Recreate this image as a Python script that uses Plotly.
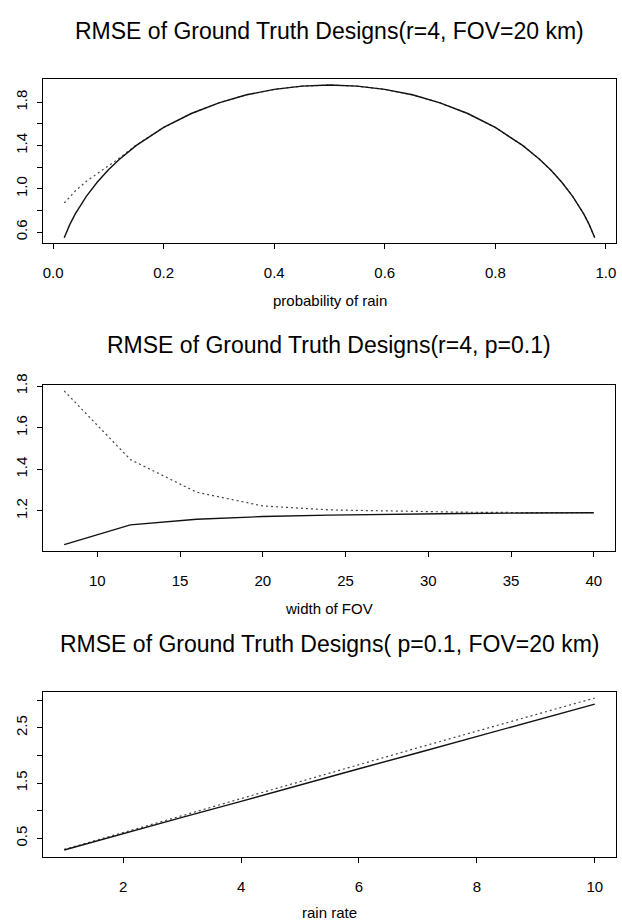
import plotly.graph_objects as go

W, H = 622, 920

# ---------------- data ----------------
# Panel 1: RMSE vs probability of rain (r=4, FOV=20 km)
p_rain = [0.02, 0.03, 0.04, 0.06, 0.08, 0.10, 0.12, 0.15, 0.20, 0.25, 0.30, 0.35,
          0.40, 0.45, 0.50, 0.55, 0.60, 0.65, 0.70, 0.75, 0.80, 0.85, 0.88, 0.90,
          0.92, 0.94, 0.96, 0.97, 0.98]
rmse_p_solid = [0.549, 0.669, 0.768, 0.931, 1.063, 1.176, 1.274, 1.400, 1.568, 1.697,
                1.796, 1.870, 1.920, 1.950, 1.960, 1.950, 1.920, 1.870, 1.796, 1.697,
                1.568, 1.400, 1.274, 1.176, 1.063, 0.931, 0.768, 0.669, 0.549]
rmse_p_dot = [0.870, 0.925, 0.980, 1.070, 1.140, 1.210, 1.285, 1.405, 1.568, 1.697,
              1.796, 1.870, 1.920, 1.950, 1.960, 1.950, 1.920, 1.870, 1.796, 1.697,
              1.568, 1.400, 1.274, 1.176, 1.063, 0.931, 0.768, 0.669, 0.549]

# Panel 2: RMSE vs width of FOV (r=4, p=0.1)
fov = [8, 12, 16, 20, 24, 28, 32, 36, 40]
rmse_f_solid = [1.038, 1.133, 1.160, 1.173, 1.180, 1.185, 1.188, 1.190, 1.191]
rmse_f_dot = [1.777, 1.447, 1.290, 1.224, 1.205, 1.198, 1.194, 1.192, 1.192]

# Panel 3: RMSE vs rain rate (p=0.1, FOV=20 km)
rain_rate = [1, 2, 3, 4, 5, 6, 7, 8, 9, 10]
rmse_r_solid = [0.29, 0.59, 0.88, 1.17, 1.47, 1.76, 2.05, 2.34, 2.64, 2.93]
rmse_r_dot = [0.30, 0.60, 0.91, 1.22, 1.53, 1.83, 2.14, 2.44, 2.74, 3.04]

titles = ["RMSE of Ground Truth Designs(r=4, FOV=20 km)",
          "RMSE of Ground Truth Designs(r=4, p=0.1)",
          "RMSE of Ground Truth Designs( p=0.1, FOV=20 km)"]
xlabels = ["probability of rain", "width of FOV", "rain rate"]

x_ticks = [[0.0, 0.2, 0.4, 0.6, 0.8, 1.0], [10, 15, 20, 25, 30, 35, 40], [2, 4, 6, 8, 10]]
x_ticktext = [["0.0", "0.2", "0.4", "0.6", "0.8", "1.0"],
              ["10", "15", "20", "25", "30", "35", "40"],
              ["2", "4", "6", "8", "10"]]
y_ticks = [[0.6, 0.8, 1.0, 1.2, 1.4, 1.6, 1.8], [1.2, 1.4, 1.6, 1.8],
           [0.5, 1.0, 1.5, 2.0, 2.5, 3.0]]
y_ticktext = [["0.6", "", "1.0", "", "1.4", "", "1.8"], ["1.2", "1.4", "1.6", "1.8"],
              ["0.5", "", "1.5", "", "2.5", ""]]

x_ranges = [[-0.0184, 1.0184], [6.72, 41.28], [0.64, 10.36]]
y_ranges = [[0.50, 2.015], [1.008, 1.805], [0.166, 3.148]]

# ---------------- layout (pixel boxes) ----------------
boxes = [(43, 616, 68, 234), (43, 615, 378, 546), (43, 616, 689, 856)]
title_y = [19, 337, 640]
label_y = [292, 604, 912]

FONT = "Liberation Sans, Arial, Helvetica, sans-serif"

fig = go.Figure()
series = [(p_rain, rmse_p_solid, rmse_p_dot), (fov, rmse_f_solid, rmse_f_dot),
          (rain_rate, rmse_r_solid, rmse_r_dot)]

annotations = []
for i, (xs, ys_s, ys_d) in enumerate(series):
    sfx = "" if i == 0 else str(i + 1)
    fig.add_trace(go.Scatter(x=xs, y=ys_d, mode="lines", xaxis="x" + sfx, yaxis="y" + sfx,
                             line=dict(color="#444444", width=1.2, dash="2px,3px"),
                             showlegend=False, hoverinfo="skip"))
    fig.add_trace(go.Scatter(x=xs, y=ys_s, mode="lines", xaxis="x" + sfx, yaxis="y" + sfx,
                             line=dict(color="#111111", width=1.4),
                             showlegend=False, hoverinfo="skip"))
    x0, x1, y0, y1 = boxes[i]
    common = dict(showline=True, linecolor="black", linewidth=1.2, mirror=True,
                  ticks="outside", ticklen=5, tickwidth=1, tickcolor="black",
                  showgrid=False, zeroline=False,
                  tickfont=dict(family=FONT, size=15, color="black"))
    fig.layout["xaxis" + sfx] = dict(
        domain=[x0 / W, x1 / W], anchor="y" + sfx, range=x_ranges[i],
        tickmode="array", tickvals=x_ticks[i], ticktext=x_ticktext[i],
        ticklabelstandoff=11, **common)
    fig.layout["yaxis" + sfx] = dict(
        domain=[1 - y1 / H, 1 - y0 / H], anchor="x" + sfx, range=y_ranges[i],
        tickangle=-90, tickmode="array", tickvals=y_ticks[i], ticktext=y_ticktext[i],
        ticklabelstandoff=4, **common)
    cx = (x0 + x1) / 2 / W
    annotations.append(dict(text=titles[i], x=cx, y=1 - title_y[i] / H, xref="paper",
                            yref="paper", xanchor="center", yanchor="middle",
                            showarrow=False,
                            font=dict(family=FONT, size=23, color="black")))
    annotations.append(dict(text=xlabels[i], x=cx, y=1 - label_y[i] / H, xref="paper",
                            yref="paper", xanchor="center", yanchor="middle",
                            showarrow=False,
                            font=dict(family=FONT, size=15, color="black")))

fig.update_layout(width=W, height=H, margin=dict(l=0, r=0, t=0, b=0),
                  paper_bgcolor="white", plot_bgcolor="white",
                  annotations=annotations, font=dict(family=FONT, color="black"))

fig.write_html("out.html", config={"displayModeBar": False},
               post_script="document.body.style.margin='0';"
                           "document.body.style.overflow='hidden';")
